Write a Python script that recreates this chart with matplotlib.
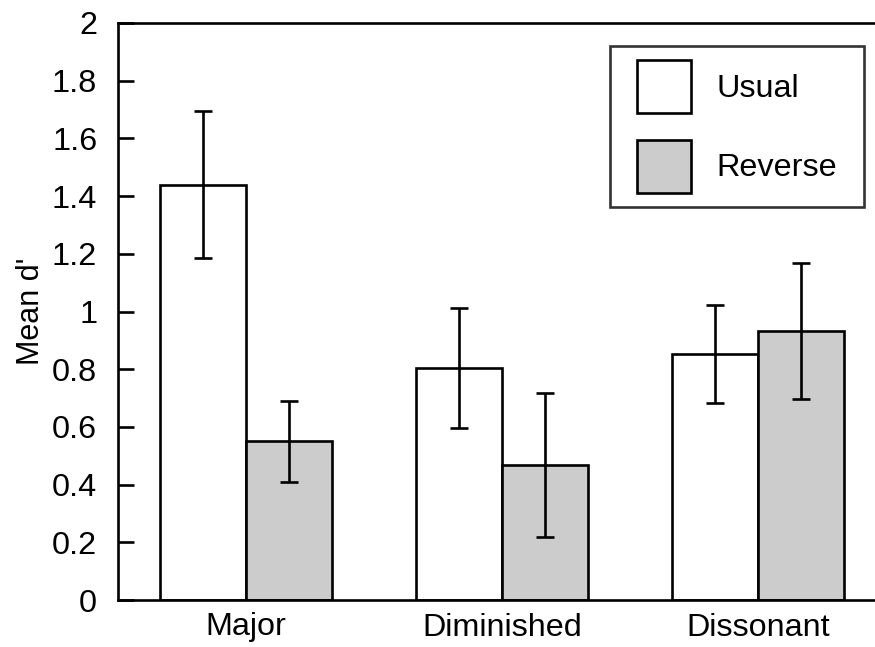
import numpy as np
import matplotlib
matplotlib.use("Agg")
import matplotlib.pyplot as plt
from matplotlib.container import BarContainer
from matplotlib.legend_handler import HandlerPatch, update_from_first_child

plt.rcParams["font.family"] = ["Liberation Sans", "DejaVu Sans"]

# conditions and mean d' per group
groups = ["Major", "Diminished", "Dissonant"]
usual = [1.44, 0.805, 0.853]
reverse = [0.55, 0.468, 0.932]
usual_err = [0.255, 0.208, 0.17]
reverse_err = [0.14, 0.25, 0.237]
yticks = [0, 0.2, 0.4, 0.6, 0.8, 1, 1.2, 1.4, 1.6, 1.8, 2]
ytick_labels = ["0", "0.2", "0.4", "0.6", "0.8", "1", "1.2", "1.4", "1.6", "1.8", "2"]

FS = 23.3
lw = 1.9

fig = plt.figure(figsize=(8.75, 6.47), dpi=100)
ax = fig.add_axes([118 / 875, 1 - 600 / 647, 1 - 118 / 875, (600 - 23) / 647])

x = np.arange(len(groups))
w = 0.336
ax.bar(x - w / 2, usual, w, color="white", edgecolor="black", linewidth=lw,
       label="Usual", zorder=2)
ax.bar(x + w / 2, reverse, w, color="#cccccc", edgecolor="black", linewidth=lw,
       label="Reverse", zorder=2)
ax.errorbar(x - w / 2, usual, yerr=usual_err, fmt="none", ecolor="black",
            elinewidth=lw, capsize=6.8, capthick=lw, zorder=3)
ax.errorbar(x + w / 2, reverse, yerr=reverse_err, fmt="none", ecolor="black",
            elinewidth=lw, capsize=6.8, capthick=lw, zorder=3)

ax.set_xlim(-0.5, 2.457)
ax.set_ylim(0, 2)
ax.set_xticks(x)
ax.set_xticklabels(groups, fontsize=FS)
ax.set_yticks(yticks)
ax.set_yticklabels(ytick_labels, fontsize=FS)
ax.tick_params(axis="x", length=0, pad=9)
ax.tick_params(axis="y", direction="in", length=11.5, width=lw, pad=15)
ax.set_ylabel("Mean d'", fontsize=22, labelpad=4)

ax.spines["right"].set_visible(False)
for s in ["left", "top", "bottom"]:
    ax.spines[s].set_linewidth(lw)

# legend box spans a fixed region; handles pushed in a little from the left
leg = ax.legend(loc="upper left", bbox_to_anchor=(0.650, 0.0, 0.3355, 0.960),
                mode="expand", fontsize=FS, frameon=True, fancybox=False,
                edgecolor="black", handlelength=2.07, handleheight=2.14,
                handletextpad=0.8, borderpad=0.43, labelspacing=0.83,
                borderaxespad=0,
                handler_map={BarContainer: HandlerPatch(
                    xpad=0.40, update_func=update_from_first_child)})
leg.get_frame().set_linewidth(lw)

fig.savefig("out.png", dpi=100)
